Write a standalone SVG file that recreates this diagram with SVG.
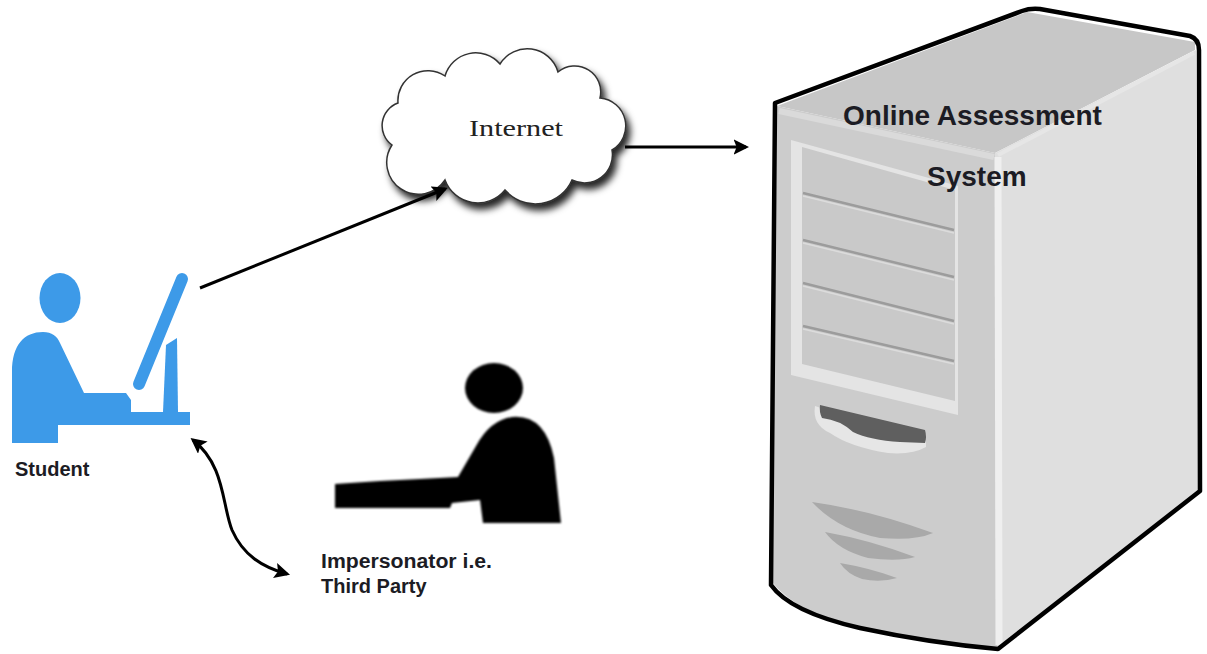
<svg xmlns="http://www.w3.org/2000/svg" width="1207" height="654" viewBox="0 0 1207 654">
  <style>
    .label { font-family: "Liberation Sans", Arial, sans-serif; font-weight: bold; fill: #1c1c24; }
    .conn { fill: none; stroke: #000; stroke-width: 3; }
    .bay { stroke: #9c9c9c; stroke-width: 2.5; fill: none; }
    .bayhi { stroke: #dcdcdc; stroke-width: 1.5; fill: none; }
    .vent { fill: #a9a9a9; }
    .blue { fill: #3d9ae8; }
  </style>
  <defs>
    <marker id="arrow" viewBox="0 0 10 10" refX="8" refY="5" markerWidth="5.2" markerHeight="5.2" orient="auto-start-reverse">
      <path d="M0,0 L10,5 L0,10 L2,5 Z" fill="#000"/>
    </marker>
    <filter id="cloudShadow" x="-10%" y="-10%" width="125%" height="130%">
      <feDropShadow dx="4" dy="6" stdDeviation="3.5" flood-color="#000" flood-opacity="0.85"/>
    </filter>
    <filter id="soft" x="-5%" y="-5%" width="110%" height="110%">
      <feGaussianBlur stdDeviation="0.8"/>
    </filter>
  </defs>

  <rect width="1207" height="654" fill="#fff"/>

  <!-- Server tower -->
  <g id="server">
    <!-- top face -->
    <path d="M777,106 L1027,12 L1195,42 L1195,50 L995,153 Z" fill="#c7c7c7"/>
    <!-- right face -->
    <path d="M995,153 L1196,50 L1199,490 L997,648 Z" fill="#dfdfdf"/>
    <!-- front face -->
    <path d="M777,106 L995,153 L997,648 Q930,643 860,628 Q795,612 772,582 Z" fill="#cccccc"/>
    <!-- edge highlights -->
    <path d="M779,111 L994,157" stroke="#dadada" stroke-width="6" fill="none"/>
    <path d="M998,157 L999,645" stroke="#efefef" stroke-width="7" fill="none"/>
    <path d="M998,155 L1194,53" stroke="#e6e6e6" stroke-width="4" fill="none"/>
    <!-- drive bay panel -->
    <path d="M791,140 L958,186 L958,415 L791,375 Z" fill="#e4e4e4"/>
    <path d="M802,147 L955,190 L955,401 L802,364 Z" fill="#c9c9c9"/>
    <path class="bay" d="M803,193 L954,230 M803,240 L954,277 M803,283 L954,321 M803,326 L954,361"/>
    <path class="bayhi" d="M803,196 L954,233 M803,243 L954,280 M803,286 L954,324 M803,329 L954,364"/>
    <!-- floppy slot -->
    <path d="M815,406 Q812,425 830,433 Q850,447 888,453 Q912,455 926,447 L926,440 L818,407 Z" fill="#e6e6e6"/>
    <path d="M820,405 L925,430 Q927,437 925,443 L900,442 Q870,440 853,432 Q840,420 822,418 Q819,412 820,405 Z" fill="#5f5f5f"/>
    <!-- vents -->
    <path class="vent" d="M812,502 Q870,510 933,533 Q915,541 880,538 Q838,530 812,502 Z"/>
    <path class="vent" d="M825,532 Q870,540 915,557 Q898,562 868,558 Q838,550 825,532 Z"/>
    <path class="vent" d="M840,563 Q870,568 897,578 Q880,583 862,579 Q847,574 840,563 Z"/>
    <!-- outline -->
    <path d="M775,103 L1022,11 Q1030,8 1040,9 L1190,36 Q1199,39 1199,50 L1200,491 L998,649 Q930,643 860,628 Q790,612 771,585 Z" fill="none" stroke="#000" stroke-width="4.5" stroke-linejoin="round"/>
    <text class="label" x="843" y="125" font-size="28">Online Assessment</text>
    <text class="label" x="927" y="186" font-size="28">System</text>
  </g>

  <!-- Internet cloud -->
  <g id="internet">
    <path filter="url(#cloudShadow)" d="M392,145 A24,24 0 0 1 398,103 A30,30 0 0 1 445,76 A32,32 0 0 1 500,64 A32,32 0 0 1 558,72 A26,26 0 0 1 600,98 A28,28 0 0 1 612,150 A28,28 0 0 1 572,180 A40,40 0 0 1 505,190 A35,35 0 0 1 445,180 A30,30 0 0 1 392,145 Z" fill="#fff" stroke="#333" stroke-width="1.5"/>
    <text x="469" y="136" font-family="'Liberation Serif', 'Times New Roman', serif" font-size="24" fill="#222" textLength="94" lengthAdjust="spacingAndGlyphs">Internet</text>
  </g>

  <!-- Student at computer -->
  <g id="student">
    <ellipse class="blue" cx="60" cy="298" rx="20.5" ry="25"/>
    <path class="blue" d="M12,443 L12,372 C12,345 24,332 43,332 C52,332 57,336 60,343 L84,393 L126,393 L131,400 L131,412 L190,412 L190,425 L58,425 L58,443 Z"/>
    <path class="blue" d="M166,345 L177,338 L178,412 L163,412 Z"/>
    <line x1="182" y1="279" x2="139" y2="384" stroke="#3d9ae8" stroke-width="12" stroke-linecap="round"/>
    <text class="label" x="15" y="476" font-size="20">Student</text>
  </g>

  <!-- Impersonator -->
  <g id="impersonator">
    <g filter="url(#soft)" fill="#000">
      <ellipse cx="494" cy="388" rx="29" ry="25"/>
      <path d="M335,484 L380,481 L420,479 L458,477 L476,446 Q490,420 512,417 Q545,414 554,458 L561,523 L483,523 L480,500 L452,503 L450,508 L335,508 Z"/>
    </g>
    <text class="label" x="321" y="568" font-size="20" textLength="171" lengthAdjust="spacingAndGlyphs">Impersonator i.e.</text>
    <text class="label" x="321" y="593" font-size="20">Third Party</text>
  </g>

  <!-- Connectors -->
  <g id="connectors">
    <line class="conn" x1="200" y1="288" x2="445" y2="189" marker-end="url(#arrow)"/>
    <line class="conn" x1="625" y1="147" x2="746" y2="147" marker-end="url(#arrow)"/>
    <path class="conn" d="M193,440 C225,465 222,505 232,530 C243,555 262,567 287,574" stroke-width="3.5" marker-start="url(#arrow)" marker-end="url(#arrow)"/>
  </g>
</svg>
